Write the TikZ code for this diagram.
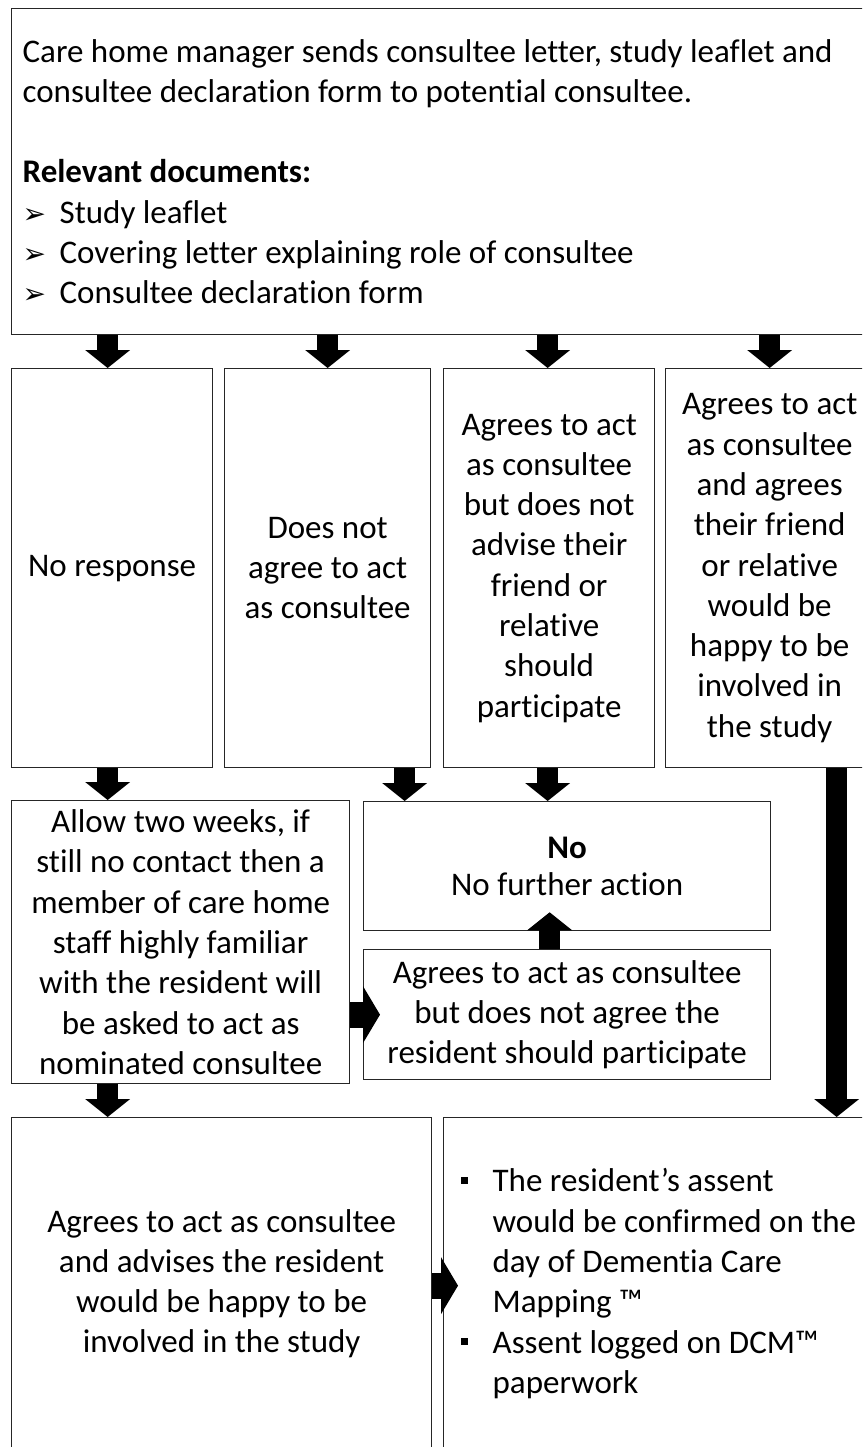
\documentclass[tikz,border=0pt]{standalone}
\usepackage{fontspec}
\setmainfont{Carlito}[Ligatures=NoCommon]
\newfontfamily\symfont{DejaVu Sans}
\usetikzlibrary{arrows.meta}

% body text size and line spacing
\newcommand\boxfont{\fontsize{33}{40.3}\selectfont}
% arrowhead bullet for the document list
\newcommand\arrbul{\makebox[37pt][l]{\symfont\fontsize{28}{28}\selectfont ➢}}
% small square bullet
\newcommand\sqbul{\makebox[32pt][l]{\rule[8pt]{7pt}{7pt}}}
\newcommand\sqind{\hspace*{32pt}}

\begin{document}
\begin{tikzpicture}[x=1pt,y=-1pt,
  box/.style={draw=black!85, line width=1.3pt, inner sep=0pt, align=center,
    font=\boxfont, anchor=north west},
  varrow/.style={line width=21pt, -{Triangle[width=45pt,length=18pt,line width=0pt]}},
  harrow/.style={line width=26pt, -{Triangle[width=57pt,length=17pt,line width=0pt]}}
]
\useasboundingbox (0,0) rectangle (862,1447);
\clip (0,0) rectangle (862,1447);
\fill[white] (0,0) rectangle (862,1447);

% opening step
\node[box, align=flush left, text width=842pt, minimum width=864pt, minimum height=326pt]
  (top) at (11,8)
  {Care home manager sends consultee letter, study leaflet and\\
   consultee declaration form to potential consultee.\\[40.3pt]
   \textbf{Relevant documents:}\\
   \arrbul Study leaflet\\
   \arrbul Covering letter explaining role of consultee\\
   \arrbul Consultee declaration form};

% four possible replies
\node[box, minimum width=201pt, minimum height=399pt] (r2a) at (11,368)
  {No response};
\node[box, minimum width=206pt, minimum height=399pt] (r2b) at (224,368)
  {Does not\\ agree to act\\ as consultee};
\node[box, minimum width=211pt, minimum height=399pt] (r2c) at (443,368)
  {Agrees to act\\ as consultee\\ but does not\\ advise their\\ friend or\\ relative\\ should\\ participate};
\node[box, minimum width=208pt, minimum height=399pt] (r2d) at (665,368)
  {Agrees to act\\ as consultee\\ and agrees\\ their friend\\ or relative\\ would be\\ happy to be\\ involved in\\ the study};

% follow-up steps
\node[box, minimum width=338pt, minimum height=283pt] (l3) at (11,800)
  {Allow two weeks, if\\ still no contact then a\\ member of care home\\ staff highly familiar\\ with the resident will\\ be asked to act as\\ nominated consultee};
\node[box, minimum width=407pt, minimum height=129pt] (no) at (363,801)
  {\textbf{No}\\[-3pt] No further action};
\node[box, minimum width=407pt, minimum height=130pt] (ag) at (363,949)
  {Agrees to act as consultee\\ but does not agree the\\ resident should participate};

% outcome
\node[box, minimum width=420pt, minimum height=332pt] (r4a) at (11,1117)
  {Agrees to act as consultee\\ and advises the resident\\ would be happy to be\\ involved in the study};
\node[box, align=flush left, text width=426pt, minimum width=460pt, minimum height=332pt] (r4b) at (443,1117)
  {\sqbul The resident’s assent\\
   \sqind would be confirmed on the\\
   \sqind day of Dementia Care\\
   \sqind Mapping ™\\
   \sqbul Assent logged on DCM™\\
   \sqind paperwork};

% connectors
\draw[varrow] ([xshift=-4.5pt]top.south -| r2a.north) -- ([xshift=-4.5pt]r2a.north);
\draw[varrow] (top.south -| r2b.north) -- (r2b.north);
\draw[varrow] ([xshift=-1.5pt]top.south -| r2c.north) -- ([xshift=-1.5pt]r2c.north);
\draw[varrow] (top.south -| r2d.north) -- (r2d.north);

\draw[varrow] ([xshift=-4.5pt]r2a.south) -- ([xshift=-4.5pt]r2a.south |- l3.north);
\draw[varrow] ([xshift=77pt]r2b.south) -- ([xshift=77pt]r2b.south |- no.north);
\draw[varrow] ([xshift=-1.5pt]r2c.south) -- ([xshift=-1.5pt]r2c.south |- no.north);
\draw[varrow] ([xshift=67pt]r2d.south) -- ([xshift=67pt]r2d.south |- r4b.north);

\draw[varrow, shorten >=-19pt] ([xshift=-17.5pt]ag.north) -- ([xshift=-17.5pt]no.south);
\draw[harrow, shorten >=-17pt] (l3.east |- ag.west) -- (ag.west);

\draw[varrow] ([xshift=-4.5pt]l3.south -| r2a.south) -- ([xshift=-4.5pt]r2a.south |- r4a.north);
\draw[harrow, shorten >=-15pt] ([yshift=-2pt]r4a.east) -- ([yshift=-2pt]r4b.west);
\end{tikzpicture}
\end{document}
